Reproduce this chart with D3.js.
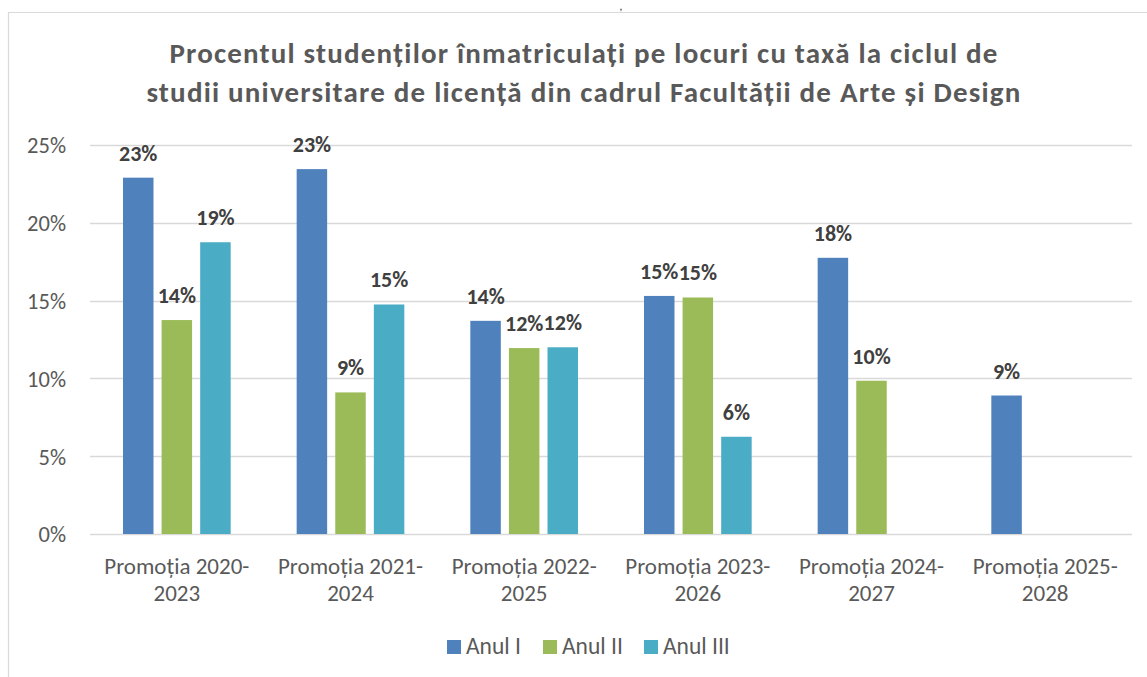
<!DOCTYPE html>
<html><head><meta charset="utf-8">
<script src="https://cdn.jsdelivr.net/npm/d3@7"></script>
<style>body{margin:0;background:#fff}svg{display:block}</style>
</head><body>
<svg id="c" width="1147" height="677"></svg>
<script>
const categories = [["Promoția 2020-","2023"],["Promoția 2021-","2024"],["Promoția 2022-","2025"],["Promoția 2023-","2026"],["Promoția 2024-","2027"],["Promoția 2025-","2028"]];
const seriesNames = ["Anul I","Anul II","Anul III"];
const anulI   = [22.9, 23.45, 13.7, 15.3, 17.75, 8.9];
const anulII  = [13.75, 9.1, 11.95, 15.2, 9.85, null];
const anulIII = [18.75, 14.75, 12.0, 6.25, null, null];
const yTicks = [0,5,10,15,20,25];
const titleLines = ["Procentul studenților înmatriculați pe locuri cu taxă la ciclul de","studii universitare de licență din cadrul Facultății de Arte și Design"];
const colors = ["#4F81BD","#9BBB59","#4BACC6"];

const seriesVals = [anulI, anulII, anulIII];
const svg = d3.select("#c");
const font = "Calibri, Carlito, Lato, sans-serif";

// chart border (partially visible)
svg.append("path").attr("d","M8.5,677 V12.5 H1147").attr("fill","none").attr("stroke","#d9d9d9").attr("stroke-width",1.2);
svg.append("text").attr("x",621).attr("y",9.5).attr("text-anchor","middle").attr("font-family",font).attr("font-size",9).attr("font-weight","bold").attr("fill","#404040").text(",");

const x0 = d3.scaleBand().domain(d3.range(categories.length)).range([90,1132]);
const x1 = d3.scaleBand().domain(d3.range(3)).range([0,x0.bandwidth()]).paddingInner(0.21).paddingOuter(0.855);
const y = d3.scaleLinear().domain([0,25]).range([534,145]);

// gridlines
svg.append("g").selectAll("line").data(yTicks).join("line")
  .attr("x1",90).attr("x2",1132).attr("y1",d=>Math.round(y(d))+0.5).attr("y2",d=>Math.round(y(d))+0.5)
  .attr("stroke","#d9d9d9").attr("stroke-width",1.4);

// y axis labels
const yAxis = d3.axisLeft(y).tickValues(yTicks).tickFormat(d=>d+"%").tickSize(0).tickPadding(0);
const ga = svg.append("g").attr("transform","translate(66,0)").call(yAxis);
ga.select(".domain").remove();
ga.selectAll("text").attr("font-family",font).attr("font-size",22.5).attr("fill","#595959").attr("dy","0.35em");

// bars
const data = [];
categories.forEach((c,i)=>seriesVals.forEach((s,j)=>{ if(s[i]!=null) data.push({i,j,v:s[i]}); }));
svg.append("g").selectAll("rect").data(data).join("rect")
  .attr("x",d=>x0(d.i)+x1(d.j)).attr("width",x1.bandwidth())
  .attr("y",d=>y(d.v)).attr("height",d=>y(0)-y(d.v))
  .attr("fill",d=>colors[d.j]);

// labels
svg.append("g").selectAll("text").data(data).join("text")
  .attr("x",d=>x0(d.i)+x1(d.j)+x1.bandwidth()/2).attr("y",d=>y(d.v)-17)
  .attr("text-anchor","middle").attr("font-family",font).attr("font-size",22).attr("font-weight","bold").attr("fill","#404040")
  .text(d=>Math.round(d.v)+"%");

// category labels
const gc = svg.append("g");
categories.forEach((c,i)=>{
  const t = gc.append("text").attr("x",x0(i)+x0.bandwidth()/2).attr("text-anchor","middle")
    .attr("font-family",font).attr("font-size",23).attr("fill","#595959");
  c.forEach((ln,k)=>t.append("tspan").attr("x",x0(i)+x0.bandwidth()/2).attr("y",574+k*27).text(ln));
});

// title
const titleW = [828, 874];
titleLines.forEach((ln,k)=>{
  const t = svg.append("text").attr("x",584).attr("y",63+k*39).attr("text-anchor","middle")
    .attr("font-family",font).attr("font-size",29).attr("font-weight","bold").attr("fill","#595959").text(ln);
  const w = t.node().getComputedTextLength();
  const ls = (titleW[k]-w)/(ln.length-1);
  t.attr("letter-spacing", ls.toFixed(2));
});

// legend
const legX = [447,543,644];
seriesNames.forEach((n,j)=>{
  svg.append("rect").attr("x",legX[j]).attr("y",640).attr("width",14).attr("height",14).attr("fill",colors[j]);
  svg.append("text").attr("x",legX[j]+19).attr("y",654).attr("font-family",font).attr("font-size",23.5).attr("fill","#595959").text(n);
});
</script>
</body></html>
